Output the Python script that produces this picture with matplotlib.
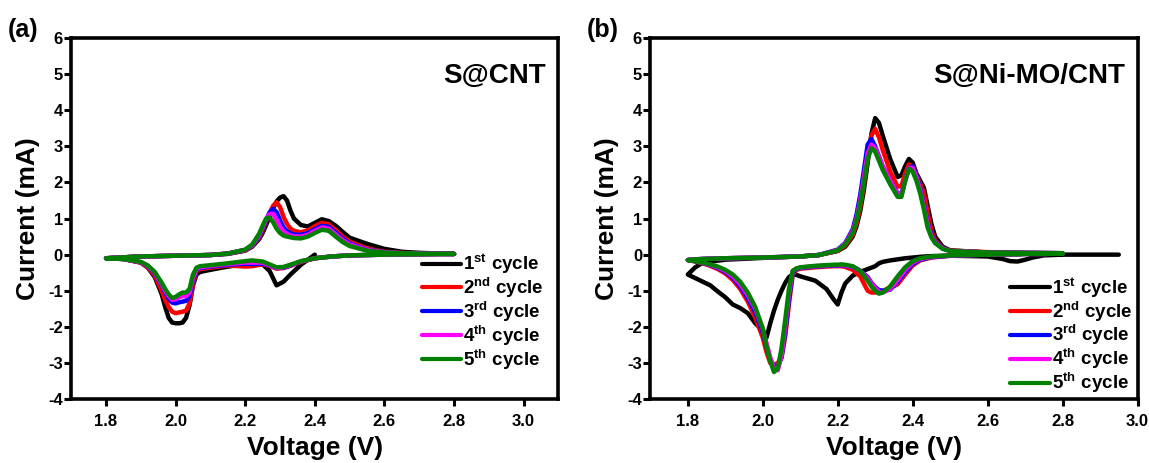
import numpy as np
import matplotlib
matplotlib.use('Agg')
import matplotlib.pyplot as plt

plt.rcParams['font.family'] = ['Liberation Sans', 'DejaVu Sans']
plt.rcParams['font.weight'] = 'bold'
plt.rcParams['axes.unicode_minus'] = False
plt.rcParams['mathtext.fontset'] = 'custom'
plt.rcParams['mathtext.bf'] = 'Liberation Sans:bold'
plt.rcParams['mathtext.rm'] = 'Liberation Sans:bold'

labels = [r'1$^{\mathbf{st}}$ cycle', r'2$^{\mathbf{nd}}$ cycle', r'3$^{\mathbf{rd}}$ cycle',
          r'4$^{\mathbf{th}}$ cycle', r'5$^{\mathbf{th}}$ cycle']
colors = ['black', '#ff0000', '#0000ff', '#ff00ff', '#008000']
nan = np.nan

# ---- panel (a) S@CNT ----
# anodic sweep (1.8 -> 2.8 V)
a_up_v = [1.80, 1.90, 2.00, 2.10, 2.15, 2.20, 2.22, 2.24, 2.25, 2.26, 2.27, 2.28, 2.29, 2.30, 2.31,
          2.32, 2.33, 2.34, 2.36, 2.38, 2.40, 2.42, 2.44, 2.46, 2.48, 2.50, 2.55, 2.60, 2.65, 2.70, 2.80]
a_up_c1 = [-0.10, -0.05, -0.03, -0.01, 0.02, 0.11, 0.22, 0.43, 0.60, 0.82, 1.05, 1.28, 1.47, 1.58, 1.62,
           1.50, 1.22, 1.00, 0.82, 0.78, 0.88, 0.98, 0.93, 0.80, 0.63, 0.47, 0.30, 0.16, 0.08, 0.05, 0.02]
a_up_c2 = [-0.10, -0.05, -0.03, -0.01, 0.03, 0.12, 0.24, 0.47, 0.68, 0.92, 1.15, 1.35, 1.45, 1.32, 1.05,
           0.85, 0.72, 0.66, 0.62, 0.67, 0.79, 0.88, 0.84, 0.68, 0.50, 0.36, 0.17, 0.08, 0.05, 0.03, 0.02]
a_up_c3 = [-0.10, -0.05, -0.03, -0.01, 0.03, 0.13, 0.25, 0.50, 0.72, 0.95, 1.17, 1.27, 1.18, 0.95, 0.75,
           0.65, 0.59, 0.56, 0.55, 0.60, 0.71, 0.80, 0.77, 0.61, 0.44, 0.31, 0.14, 0.07, 0.04, 0.03, 0.02]
a_up_c4 = [-0.10, -0.05, -0.03, -0.01, 0.03, 0.13, 0.26, 0.53, 0.75, 0.97, 1.12, 1.13, 0.97, 0.78, 0.64,
           0.57, 0.53, 0.51, 0.50, 0.55, 0.66, 0.75, 0.72, 0.56, 0.40, 0.28, 0.13, 0.07, 0.04, 0.03, 0.02]
a_up_c5 = [-0.10, -0.05, -0.03, -0.01, 0.03, 0.14, 0.28, 0.58, 0.80, 1.00, 1.03, 0.90, 0.72, 0.60, 0.53,
           0.50, 0.48, 0.46, 0.45, 0.50, 0.60, 0.69, 0.66, 0.50, 0.35, 0.24, 0.11, 0.06, 0.04, 0.03, 0.02]
# cathodic sweep (2.8 -> 1.8 V)
a_dn_v = [2.80, 2.60, 2.50, 2.45, 2.40, 2.36, 2.33, 2.31, 2.29, 2.27, 2.25, 2.22, 2.20, 2.15, 2.10, 2.07,
          2.06, 2.05, 2.04, 2.03, 2.02, 2.01, 2.00, 1.99, 1.98, 1.97, 1.96, 1.94, 1.92, 1.90, 1.85, 1.80]
a_dn_c1 = [nan, nan, nan, nan, 0.00, -0.28, -0.55, -0.75, -0.85, -0.45, -0.27, -0.25, -0.27, -0.33, -0.42, -0.48,
           -0.55, -0.85, -1.40, -1.75, -1.88, -1.90, -1.90, -1.88, -1.75, -1.45, -1.10, -0.62, -0.36, -0.22, -0.12, -0.10]
a_dn_c2 = [0.02, 0.00, -0.02, -0.05, -0.10, -0.20, -0.31, -0.37, -0.39, -0.31, -0.27, -0.32, -0.33, -0.30, -0.36, -0.40,
           -0.45, -0.80, -1.35, -1.55, -1.58, -1.60, -1.62, -1.58, -1.45, -1.25, -1.00, -0.58, -0.35, -0.22, -0.12, -0.10]
a_dn_c3 = [0.02, 0.00, -0.02, -0.05, -0.10, -0.19, -0.30, -0.36, -0.37, -0.30, -0.25, -0.26, -0.25, -0.28, -0.33, -0.37,
           -0.42, -0.70, -1.15, -1.28, -1.30, -1.32, -1.35, -1.33, -1.22, -1.05, -0.85, -0.52, -0.32, -0.21, -0.12, -0.10]
a_dn_c4 = [0.02, 0.00, -0.02, -0.05, -0.10, -0.19, -0.29, -0.35, -0.37, -0.29, -0.22, -0.22, -0.22, -0.26, -0.31, -0.35,
           -0.40, -0.65, -1.05, -1.15, -1.15, -1.18, -1.24, -1.25, -1.15, -1.00, -0.82, -0.50, -0.31, -0.21, -0.12, -0.10]
a_dn_c5 = [0.02, 0.00, -0.02, -0.05, -0.10, -0.18, -0.28, -0.34, -0.35, -0.27, -0.19, -0.16, -0.18, -0.24, -0.29, -0.32,
           -0.36, -0.55, -0.95, -1.05, -1.05, -1.10, -1.17, -1.20, -1.10, -0.95, -0.78, -0.48, -0.30, -0.20, -0.12, -0.10]

# ---- panel (b) S@Ni-MO/CNT ----
b_up_v = [1.80, 1.82, 1.84, 1.90, 2.00, 2.10, 2.15, 2.20, 2.22, 2.24, 2.25, 2.26, 2.27, 2.28, 2.29, 2.30, 2.31, 2.32,
          2.34, 2.36, 2.37, 2.38, 2.39, 2.40, 2.41, 2.42, 2.43, 2.44, 2.45, 2.46, 2.48, 2.50, 2.60, 2.70, 2.80]
b_up_c1 = [-0.55, -0.35, -0.22, -0.14, -0.09, -0.05, -0.01, 0.10, 0.22, 0.50, 0.78, 1.20, 1.80, 2.55, 3.35, 3.78, 3.65, 3.30,
           2.65, 2.15, 2.20, 2.45, 2.65, 2.55, 2.25, 2.05, 1.85, 1.35, 0.85, 0.50, 0.22, 0.12, 0.06, 0.04, 0.02]
b_up_c2 = [-0.15, -0.13, -0.12, -0.10, -0.08, -0.05, -0.01, 0.11, 0.25, 0.55, 0.85, 1.30, 1.95, 2.70, 3.30, 3.48, 3.25, 2.90,
           2.30, 1.88, 1.90, 2.25, 2.50, 2.45, 2.20, 1.95, 1.70, 1.15, 0.65, 0.40, 0.19, 0.11, 0.07, 0.05, 0.04]
b_up_c3 = [-0.15, -0.13, -0.12, -0.10, -0.08, -0.05, -0.01, 0.14, 0.32, 0.70, 1.10, 1.65, 2.35, 3.05, 3.20, 3.00, 2.72, 2.45,
           2.05, 1.70, 1.68, 2.05, 2.40, 2.45, 2.20, 1.85, 1.40, 0.90, 0.55, 0.36, 0.18, 0.10, 0.06, 0.05, 0.04]
b_up_c4 = [-0.15, -0.13, -0.12, -0.10, -0.08, -0.05, -0.01, 0.13, 0.30, 0.65, 1.00, 1.50, 2.15, 2.80, 3.05, 2.95, 2.70, 2.45,
           2.05, 1.68, 1.65, 2.05, 2.40, 2.40, 2.15, 1.80, 1.35, 0.85, 0.52, 0.34, 0.17, 0.10, 0.06, 0.05, 0.04]
b_up_c5 = [-0.15, -0.13, -0.12, -0.10, -0.08, -0.05, -0.01, 0.12, 0.28, 0.60, 0.95, 1.40, 2.00, 2.65, 2.95, 2.85, 2.60, 2.35,
           1.95, 1.60, 1.60, 2.05, 2.38, 2.30, 2.05, 1.70, 1.25, 0.75, 0.48, 0.32, 0.16, 0.10, 0.06, 0.05, 0.04]
b_dn_v = [2.95, 2.80, 2.75, 2.72, 2.70, 2.68, 2.66, 2.64, 2.60, 2.50, 2.45, 2.42, 2.40, 2.38, 2.36, 2.34, 2.32,
          2.31, 2.30, 2.29, 2.28, 2.26, 2.24, 2.22, 2.21, 2.20, 2.19, 2.17, 2.14, 2.10, 2.09, 2.08, 2.07, 2.06,
          2.05, 2.04, 2.03, 2.02, 2.01, 2.00, 1.98, 1.96, 1.94, 1.92, 1.90, 1.88, 1.86, 1.84, 1.82, 1.80]
b_dn_c1 = [0.00, 0.00, -0.02, -0.08, -0.14, -0.19, -0.18, -0.12, -0.05, -0.03, -0.04, -0.06, -0.08, -0.10, -0.13, -0.16, -0.20,
           -0.24, -0.32, -0.36, -0.40, -0.48, -0.58, -0.80, -1.05, -1.38, -1.25, -0.95, -0.72, -0.60, -0.56, -0.55, -0.62, -0.78,
           -1.00, -1.25, -1.55, -1.90, -2.30, -2.10, -1.90, -1.62, -1.48, -1.38, -1.18, -1.02, -0.85, -0.75, -0.65, -0.55]
b_dn_c2 = [nan, 0.03, 0.02, 0.02, 0.02, 0.01, 0.01, 0.01, 0.00, -0.03, -0.08, -0.16, -0.30, -0.55, -0.82, -0.92, -1.00,
           -1.03, -1.05, -1.05, -1.00, -0.60, -0.42, -0.34, -0.32, -0.32, -0.32, -0.33, -0.35, -0.39, -0.42, -0.55, -1.35, -2.25,
           -2.85, -3.00, -3.05, -3.00, -2.70, -2.30, -1.75, -1.30, -0.95, -0.70, -0.52, -0.40, -0.31, -0.24, -0.19, -0.15]
b_dn_c3 = [nan, 0.03, 0.02, 0.02, 0.02, 0.01, 0.01, 0.01, 0.00, -0.03, -0.07, -0.14, -0.26, -0.48, -0.75, -0.97, -1.00,
           -0.98, -0.90, -0.78, -0.62, -0.44, -0.34, -0.31, -0.30, -0.30, -0.30, -0.31, -0.33, -0.37, -0.40, -0.50, -1.25, -2.15,
           -2.85, -3.10, -3.10, -2.90, -2.55, -2.15, -1.60, -1.20, -0.88, -0.64, -0.48, -0.37, -0.29, -0.23, -0.18, -0.15]
b_dn_c4 = [nan, 0.03, 0.02, 0.02, 0.02, 0.01, 0.01, 0.01, 0.00, -0.02, -0.06, -0.12, -0.22, -0.42, -0.70, -0.95, -1.05,
           -1.03, -0.93, -0.80, -0.65, -0.45, -0.33, -0.30, -0.29, -0.29, -0.29, -0.30, -0.32, -0.36, -0.39, -0.45, -1.10, -2.00,
           -2.80, -3.20, -3.15, -2.85, -2.45, -2.05, -1.50, -1.12, -0.82, -0.60, -0.45, -0.35, -0.28, -0.22, -0.18, -0.15]
b_dn_c5 = [nan, 0.03, 0.02, 0.02, 0.02, 0.01, 0.01, 0.01, 0.00, -0.02, -0.05, -0.10, -0.18, -0.35, -0.60, -0.88, -1.05,
           -1.08, -1.00, -0.88, -0.72, -0.45, -0.32, -0.28, -0.27, -0.28, -0.28, -0.29, -0.31, -0.35, -0.38, -0.45, -0.95, -1.80,
           -2.60, -3.15, -3.25, -2.95, -2.55, -2.05, -1.45, -1.05, -0.75, -0.55, -0.42, -0.33, -0.27, -0.22, -0.18, -0.15]

panels = [
    dict(tag='(a)', name='S@CNT', xlim=(1.7, 3.1), up_v=a_up_v, dn_v=a_dn_v,
         up=[a_up_c1, a_up_c2, a_up_c3, a_up_c4, a_up_c5],
         dn=[a_dn_c1, a_dn_c2, a_dn_c3, a_dn_c4, a_dn_c5],
         rect=[0.062, 0.138, 0.424, 0.780], leg=(0.70, 0.435)),
    dict(tag='(b)', name='S@Ni-MO/CNT', xlim=(1.7, 3.0), up_v=b_up_v, dn_v=b_dn_v,
         up=[b_up_c1, b_up_c2, b_up_c3, b_up_c4, b_up_c5],
         dn=[b_dn_c1, b_dn_c2, b_dn_c3, b_dn_c4, b_dn_c5],
         rect=[0.566, 0.138, 0.424, 0.780], leg=(0.72, 0.37)),
]

fig = plt.figure(figsize=(11.49, 4.63), dpi=100)

for p in panels:
    ax = fig.add_axes(p['rect'])
    for i in range(5):
        v = np.concatenate([p['dn_v'], p['up_v']])
        c = np.concatenate([p['dn'][i], p['up'][i]])
        ax.plot(v, c, color=colors[i], lw=3.2, label=labels[i],
                solid_joinstyle='round', solid_capstyle='round')
    ax.set_xlim(*p['xlim'])
    ax.set_ylim(-4, 6)
    ax.set_xticks(np.arange(1.8, 3.01, 0.2))
    ax.set_yticks(range(-4, 7))
    ax.xaxis.set_major_formatter(matplotlib.ticker.FormatStrFormatter('%.1f'))
    ax.tick_params(direction='out', length=5, width=2.2, labelsize=12)
    ax.tick_params(axis='x', pad=6)
    ax.tick_params(axis='y', pad=1)
    for sp in ax.spines.values():
        sp.set_linewidth(2.6)
    ax.set_xlabel('Voltage (V)', fontsize=19, fontweight='bold', labelpad=5)
    ax.set_ylabel('Current (mA)', fontsize=19, fontweight='bold', labelpad=6)
    ax.text(0.975, 0.895, p['name'], transform=ax.transAxes, ha='right', va='center',
            fontsize=20, fontweight='bold')
    leg = ax.legend(loc='upper left', bbox_to_anchor=p['leg'], frameon=False, fontsize=13.5,
                    handlelength=2.1, handletextpad=0.1, labelspacing=-0.05, borderpad=0)
    for h in leg.get_lines():
        h.set_linewidth(3)
    fig.text(p['rect'][0] - 0.055, 0.935, p['tag'], fontsize=18, fontweight='bold', va='center')

fig.savefig('out.png', dpi=100)
